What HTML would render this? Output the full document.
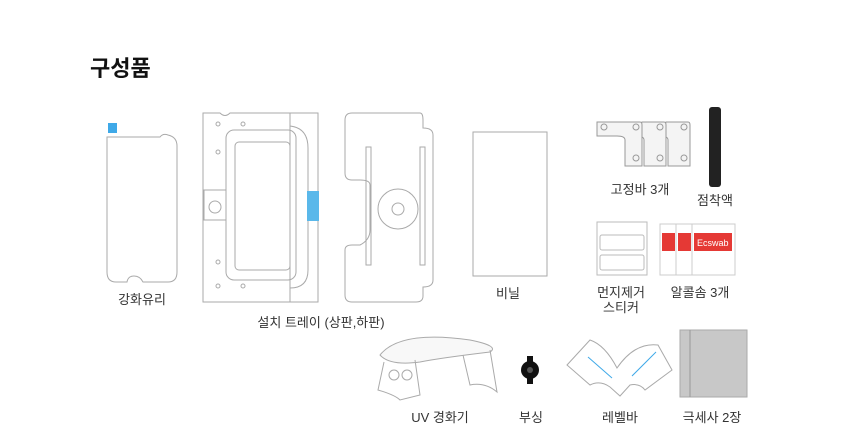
<!DOCTYPE html>
<html><head><meta charset="utf-8"><style>
html,body{margin:0;padding:0;background:#fff;}
svg{display:block;}
text{font-family:"Liberation Sans","Noto Sans CJK KR",sans-serif;fill:#333;font-size:13px;}
</style></head><body>
<svg width="860" height="443" viewBox="0 0 860 443" xmlns="http://www.w3.org/2000/svg">
<text x="90" y="76" style="font-size:22px;font-weight:bold;fill:#111">구성품</text>
<g fill="none" stroke="#aaa" stroke-width="1">
<!-- glass -->
<path d="M107,137 L160,137 Q163,133 168,135 Q177,137 177,146 L177,272 Q177,282 168,282 L143,282 Q140,276 134,276 Q128,276 127,282 L116,282 Q107,282 107,272 Z"/>
<!-- tray top -->
<path d="M203,113 L220,113 Q225,118 230,113 L318,113 L318,302 L203,302 Z"/>
<rect x="226" y="130" width="70" height="150" rx="8"/>
<rect x="235" y="142" width="55" height="128" rx="4"/>
<path d="M290,113 L290,302 M290,126 Q308,128 308,148 L308,270 Q308,288 290,288"/>
<rect x="204" y="190" width="22" height="30"/>
<circle cx="215" cy="207" r="6"/>
<circle cx="218" cy="124" r="2"/><circle cx="243" cy="124" r="2"/><circle cx="218" cy="152" r="2"/>
<circle cx="218" cy="262" r="2"/><circle cx="218" cy="286" r="2"/><circle cx="243" cy="286" r="2"/>
<!-- tray bottom -->
<path d="M352,113 L420,113 Q423,113 423,120 L423,128 Q433,128 433,135 L433,280 Q433,287 423,287 L423,296 Q423,302 416,302 L352,302 Q345,302 345,295 L345,250 Q345,245 352,245 L360,245 Q370,240 370,230 L370,185 Q370,180 360,180 L352,180 Q345,180 345,173 L345,120 Q345,113 352,113 Z"/>
<rect x="366" y="147" width="5" height="118"/><rect x="420" y="147" width="5" height="118"/>
<circle cx="398" cy="209" r="20"/>
<circle cx="398" cy="209" r="6"/>
<!-- vinyl -->
<rect x="473" y="132" width="74" height="144"/>
</g>
<rect x="108" y="123" width="9" height="10" fill="#3fa9e8"/>
<rect x="307" y="191" width="12" height="30" fill="#5ab8ea"/>
<!-- brackets -->
<g fill="#f4f4f4" stroke="#999" stroke-width="1">
<path d="M666,122 L688,122 Q690,122 690,125 L690,166 L668,166 L668,140 Q668,136 660,136 Z"/>
<path d="M642,122 L664,122 Q666,122 666,125 L666,166 L644,166 L644,140 Q644,136 636,136 Z"/>
<path d="M597,122 L640,122 Q642,122 642,125 L642,166 L625,166 L625,140 Q625,136 617,136 L597,136 Z"/>
</g>
<g fill="none" stroke="#999"><circle cx="604" cy="127" r="3"/><circle cx="636" cy="127" r="3"/><circle cx="660" cy="127" r="3"/><circle cx="684" cy="127" r="3"/><circle cx="636" cy="158" r="3"/><circle cx="660" cy="158" r="3"/><circle cx="684" cy="158" r="3"/></g>
<!-- glue -->
<rect x="709" y="107" width="12" height="80" rx="3" fill="#222"/>
<!-- dust sticker -->
<rect x="597" y="222" width="50" height="53" fill="#fff" stroke="#bbb"/>
<rect x="600" y="235" width="44" height="15" rx="2" fill="none" stroke="#bbb"/>
<rect x="600" y="255" width="44" height="15" rx="2" fill="none" stroke="#bbb"/>
<!-- alcohol -->
<g stroke="#ccc" fill="#fff">
<rect x="660" y="224" width="30" height="51"/><rect x="676" y="224" width="30" height="51"/><rect x="692" y="224" width="43" height="51"/>
</g>
<g fill="#e53935"><rect x="662" y="233" width="13" height="18"/><rect x="678" y="233" width="13" height="18"/><rect x="694" y="233" width="38" height="18"/></g>
<text x="697" y="246" style="font-size:9px;fill:#fff">Ecswab</text>
<!-- UV lamp -->
<g fill="none" stroke="#aaa">
<path d="M380,355 Q400,330 470,340 Q500,346 490,352 Q440,358 420,362 Q390,366 380,355 Z" fill="#f8f8f8"/>
<path d="M384,362 L378,390 Q395,395 400,400 L420,395 L415,360"/>
<path d="M463,355 L470,385 Q485,382 497,392 L490,350"/>
<circle cx="394" cy="375" r="5"/><circle cx="407" cy="375" r="5"/>
<!-- level bar -->
<path d="M567,365 L590,340 Q605,345 617,368 Q635,342 658,345 L672,370 L645,390 Q640,383 630,385 L620,396 L610,387 Q600,380 590,385 Z" fill="#fff"/>
</g>
<line x1="588" y1="357" x2="612" y2="378" stroke="#3fa9e8"/>
<line x1="656" y1="352" x2="632" y2="376" stroke="#3fa9e8"/>
<!-- bushing -->
<circle cx="530" cy="370" r="9" fill="#111"/><rect x="527" y="356" width="6" height="28" fill="#111"/><circle cx="530" cy="370" r="3" fill="#555"/>
<!-- cloth -->
<rect x="680" y="330" width="67" height="67" fill="#c8c8c8" stroke="#aaa"/>
<line x1="690" y1="330" x2="690" y2="397" stroke="#999"/>
<!-- labels -->
<g text-anchor="middle">
<text x="142" y="304">강화유리</text>
<text x="321" y="327">설치 트레이 (상판,하판)</text>
<text x="508" y="298">비닐</text>
<text x="640" y="194">고정바 3개</text>
<text x="715" y="205">점착액</text>
<text x="621" y="297">먼지제거</text>
<text x="621" y="312">스티커</text>
<text x="700" y="297">알콜솜 3개</text>
<text x="440" y="422">UV 경화기</text>
<text x="531" y="422">부싱</text>
<text x="620" y="422">레벨바</text>
<text x="712" y="422">극세사 2장</text>
</g>
</svg>
</body></html>
